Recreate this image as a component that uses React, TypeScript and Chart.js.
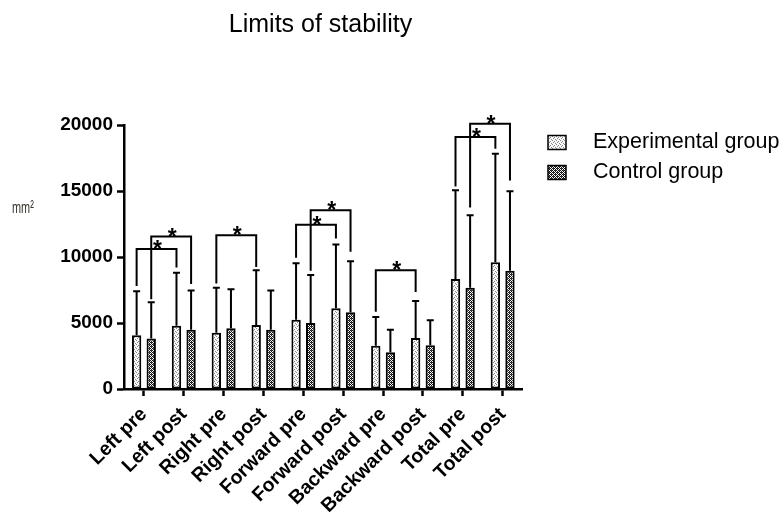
import React, { useEffect, useRef } from 'react';
import { Chart, registerables } from 'chart.js';

Chart.register(...registerables);

const categories = ['Left pre', 'Left post', 'Right pre', 'Right post', 'Forward pre', 'Forward post', 'Backward pre', 'Backward post', 'Total pre', 'Total post'];
const seriesNames = ['Experimental group', 'Control group'];
const experimentalMeans = [4080, 4800, 4270, 4850, 5250, 6110, 3270, 3870, 8330, 9610];
const experimentalSD = [3320, 4000, 3400, 4150, 4280, 4830, 2190, 2790, 6730, 8220];
const controlMeans = [3820, 4480, 4600, 4480, 5000, 5810, 2790, 3320, 7670, 8950];
const controlSD = [2750, 2990, 2950, 2990, 3630, 3870, 1690, 1890, 5490, 6040];
const yTicks = [0, 5000, 10000, 15000, 20000];

// significance brackets (series index, from category, to category, values in mm²)
const bracketSeries = [0, 1, 0, 0, 1, 0, 0, 1];
const bracketFrom = [0, 0, 2, 4, 4, 6, 8, 8];
const bracketTo = [1, 1, 3, 5, 5, 7, 9, 9];
const bracketTop = [10600, 11550, 11650, 12450, 13550, 9000, 19100, 20100];
const bracketLeftEnd = [7800, 6800, 8000, 9950, 8950, 5850, 15350, 13750];
const bracketRightEnd = [9200, 7950, 9250, 11400, 10400, 7350, 18200, 15800];
const bracketMark = '*';

const titleText = 'Limits of stability';
const unitText = 'mm²';
const FONT = "'Liberation Sans', Arial, sans-serif";

function makePattern(kind: 'light' | 'dark'): CanvasPattern | string {
  const c = document.createElement('canvas');
  c.width = 4;
  c.height = 4;
  const g = c.getContext('2d');
  if (!g) return kind === 'light' ? '#ddd' : '#777';
  if (kind === 'light') {
    g.fillStyle = '#f8f8f8';
    g.fillRect(0, 0, 4, 4);
    g.fillStyle = '#888888';
    [[0, 0], [2, 1], [1, 2], [3, 3]].forEach(([x, y]) => g.fillRect(x, y, 1, 1));
  } else {
    g.fillStyle = '#ffffff';
    g.fillRect(0, 0, 4, 4);
    g.fillStyle = '#111111';
    for (let y = 0; y < 4; y++) for (let x = 0; x < 4; x++) if ((x + y) % 2 === 0) g.fillRect(x, y, 1, 1);
    g.fillStyle = '#444444';
    [[1, 0], [3, 2]].forEach(([x, y]) => g.fillRect(x, y, 1, 1));
  }
  const p = g.createPattern(c, 'repeat');
  return p || (kind === 'light' ? '#ddd' : '#777');
}

export default function App() {
  const ref = useRef<HTMLCanvasElement>(null);

  useEffect(() => {
    if (!ref.current) return;
    const fills = [makePattern('light'), makePattern('dark')];
    const sds = [experimentalSD, controlSD];

    const overlay = {
      id: 'overlay',
      afterDatasetsDraw(chart: any) {
        const ctx = chart.ctx;
        const ys = chart.scales.y;
        ctx.save();
        ctx.strokeStyle = '#000';
        ctx.lineWidth = 2;
        // error bars (upper only)
        chart.data.datasets.forEach((ds: any, di: number) => {
          const meta = chart.getDatasetMeta(di);
          meta.data.forEach((bar: any, i: number) => {
            const top = ys.getPixelForValue(ds.data[i] + sds[di][i]);
            ctx.beginPath();
            ctx.moveTo(bar.x, bar.y);
            ctx.lineTo(bar.x, top);
            ctx.moveTo(bar.x - 3.5, top);
            ctx.lineTo(bar.x + 3.5, top);
            ctx.stroke();
          });
        });
        // brackets
        ctx.lineWidth = 2;
        for (let k = 0; k < bracketSeries.length; k++) {
          const meta = chart.getDatasetMeta(bracketSeries[k]);
          const x1 = meta.data[bracketFrom[k]].x;
          const x2 = meta.data[bracketTo[k]].x;
          const yt = ys.getPixelForValue(bracketTop[k]);
          const yl = ys.getPixelForValue(bracketLeftEnd[k]);
          const yr = ys.getPixelForValue(bracketRightEnd[k]);
          ctx.beginPath();
          ctx.moveTo(x1, yl);
          ctx.lineTo(x1, yt);
          ctx.lineTo(x2, yt);
          ctx.lineTo(x2, yr);
          ctx.stroke();
          ctx.fillStyle = '#000';
          ctx.font = `bold 23px ${FONT}`;
          ctx.textAlign = 'center';
          ctx.textBaseline = 'alphabetic';
          ctx.fillText(bracketMark, (x1 + x2) / 2 + 1, yt + 8);
        }
        ctx.restore();
      },
      afterDraw(chart: any) {
        const ctx = chart.ctx;
        ctx.save();
        // title
        ctx.fillStyle = '#000';
        ctx.font = `25px ${FONT}`;
        ctx.textAlign = 'center';
        ctx.textBaseline = 'alphabetic';
        ctx.fillText(titleText, 320.5, 32);
        // unit label
        ctx.save();
        ctx.fillStyle = '#3a3530';
        ctx.font = `17px ${FONT}`;
        ctx.textAlign = 'left';
        ctx.translate(12, 213);
        ctx.scale(0.64, 1);
        ctx.fillText(unitText, 0, 0);
        ctx.restore();
        // legend
        seriesNames.forEach((name, i) => {
          const cy = 142.5 + i * 30;
          ctx.fillStyle = fills[i];
          ctx.fillRect(548, cy - 7, 18, 14);
          ctx.strokeStyle = '#000';
          ctx.lineWidth = 1.5;
          ctx.strokeRect(548, cy - 7, 18, 14);
          ctx.fillStyle = '#000';
          ctx.font = `21.5px ${FONT}`;
          ctx.textAlign = 'left';
          ctx.textBaseline = 'middle';
          ctx.fillText(name, 593, cy);
        });
        ctx.restore();
      },
    };

    const chart = new Chart(ref.current, {
      type: 'bar',
      data: {
        labels: categories,
        datasets: [
          {
            label: seriesNames[0],
            data: experimentalMeans,
            backgroundColor: fills[0] as any,
            borderColor: '#000',
            borderWidth: 2,
            borderSkipped: false,
            categoryPercentage: 0.733,
            barPercentage: 0.64,
          },
          {
            label: seriesNames[1],
            data: controlMeans,
            backgroundColor: fills[1] as any,
            borderColor: '#000',
            borderWidth: 2,
            borderSkipped: false,
            categoryPercentage: 0.733,
            barPercentage: 0.64,
          },
        ],
      },
      options: {
        responsive: true,
        maintainAspectRatio: false,
        animation: false,
        layout: { padding: { left: 0, top: 125, right: 258.4, bottom: 0 } },
        plugins: {
          legend: { display: false },
          title: { display: false },
          tooltip: { enabled: false },
        },
        scales: {
          x: {
            offset: true,
            grid: {
              display: true,
              drawOnChartArea: false,
              drawTicks: true,
              tickLength: 7,
              tickWidth: 2.5,
              tickColor: '#000',
              offset: false,
            },
            border: { display: true, color: '#000', width: 2.5 },
            ticks: {
              color: '#000',
              font: { family: FONT, size: 19.5, weight: 'bold' },
              maxRotation: 45,
              minRotation: 45,
              padding: 7,
              autoSkip: false,
            },
            afterFit: (s: any) => {
              s.height = 123;
            },
          },
          y: {
            min: 0,
            max: 20000,
            afterBuildTicks: (s: any) => {
              s.ticks = yTicks.map((v) => ({ value: v }));
            },
            grid: {
              display: true,
              drawOnChartArea: false,
              drawTicks: true,
              tickLength: 7,
              tickWidth: 2.5,
              tickColor: '#000',
            },
            border: { display: true, color: '#000', width: 2.5 },
            ticks: {
              color: '#000',
              font: { family: FONT, size: 19, weight: 'bold' },
              padding: 4,
              callback: (v: any) => String(v),
            },
            afterFit: (s: any) => {
              s.width = 124;
            },
          },
        },
      },
      plugins: [overlay],
    } as any);

    return () => chart.destroy();
  }, []);

  return (
    <div style={{ position: 'fixed', left: 0, top: 0, width: 781, height: 512 }}>
      <canvas ref={ref} />
    </div>
  );
}
